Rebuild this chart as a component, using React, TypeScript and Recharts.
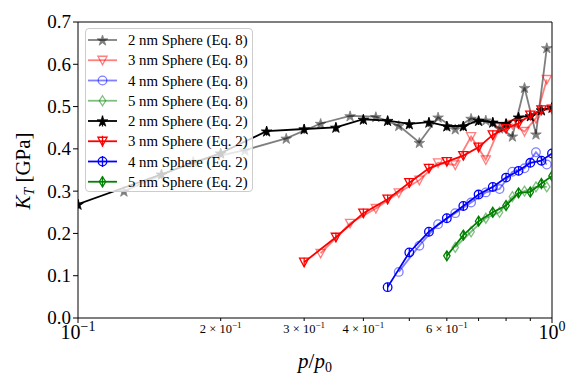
import { LineChart, Line, XAxis, YAxis, ReferenceLine } from 'recharts';

const FONT = '"Liberation Serif", "DejaVu Serif", serif';

// Eq. 2 series (p/p0, K_T in GPa)
const xSphere2Eq2 = [0.1, 0.15, 0.2, 0.25, 0.3, 0.35, 0.4, 0.45, 0.5, 0.55, 0.6, 0.65, 0.7, 0.75, 0.8, 0.85, 0.9, 0.95, 1.0];
const kSphere2Eq2 = [0.269, 0.34, 0.39, 0.442, 0.447, 0.451, 0.47, 0.467, 0.459, 0.463, 0.454, 0.454, 0.467, 0.463, 0.46, 0.475, 0.478, 0.492, 0.498];

const xSphere3Eq2 = [0.3, 0.35, 0.4, 0.45, 0.5, 0.55, 0.6, 0.65, 0.7, 0.75, 0.8, 0.85, 0.9, 0.95, 1.0];
const kSphere3Eq2 = [0.132, 0.191, 0.248, 0.281, 0.32, 0.354, 0.37, 0.384, 0.404, 0.433, 0.448, 0.46, 0.48, 0.492, 0.494];

const xSphere4Eq2 = [0.45, 0.5, 0.55, 0.6, 0.65, 0.7, 0.75, 0.8, 0.85, 0.9, 0.95, 1.0];
const kSphere4Eq2 = [0.073, 0.155, 0.204, 0.236, 0.265, 0.292, 0.31, 0.332, 0.348, 0.367, 0.372, 0.389];

const xSphere5Eq2 = [0.6, 0.65, 0.7, 0.75, 0.8, 0.85, 0.9, 0.95, 1.0];
const kSphere5Eq2 = [0.147, 0.196, 0.229, 0.25, 0.266, 0.296, 0.298, 0.318, 0.336];

// Eq. 8 series (midpoints)
const xSphere2Eq8 = [0.125, 0.175, 0.225, 0.275, 0.325, 0.375, 0.425, 0.475, 0.525, 0.575, 0.625, 0.675, 0.725, 0.775, 0.825, 0.875, 0.925, 0.975];
const kSphere2Eq8 = [0.3, 0.37, 0.397, 0.425, 0.46, 0.478, 0.476, 0.455, 0.415, 0.475, 0.447, 0.472, 0.468, 0.449, 0.43, 0.545, 0.435, 0.639];

const xSphere3Eq8 = [0.325, 0.375, 0.425, 0.475, 0.525, 0.575, 0.625, 0.675, 0.725, 0.775, 0.825, 0.875, 0.925, 0.975];
const kSphere3Eq8 = [0.153, 0.224, 0.259, 0.296, 0.326, 0.367, 0.362, 0.429, 0.374, 0.45, 0.458, 0.441, 0.472, 0.564];

const xSphere4Eq8 = [0.475, 0.525, 0.575, 0.625, 0.675, 0.725, 0.775, 0.825, 0.875, 0.925, 0.975];
const kSphere4Eq8 = [0.109, 0.171, 0.222, 0.248, 0.273, 0.297, 0.305, 0.346, 0.354, 0.392, 0.363];

const xSphere5Eq8 = [0.625, 0.675, 0.725, 0.775, 0.825, 0.875, 0.925, 0.975];
const kSphere5Eq8 = [0.167, 0.204, 0.236, 0.25, 0.287, 0.3, 0.31, 0.31];

const xTicks = [0.1, 0.2, 0.3, 0.4, 0.5, 0.6, 0.7, 0.8, 0.9, 1];
const xTickLabels: Record<string, [string, string] | null> = {
  '0.1': ['10', '\u22121'],
  '0.2': ['2 \u00d7 10', '\u22121'],
  '0.3': ['3 \u00d7 10', '\u22121'],
  '0.4': ['4 \u00d7 10', '\u22121'],
  '0.6': ['6 \u00d7 10', '\u22121'],
  '1': ['10', '0'],
};
const yTicks = [0, 0.1, 0.2, 0.3, 0.4, 0.5, 0.6, 0.7];

type Kind = 'star' | 'tri' | 'circle' | 'diamond';

interface Series {
  name: string;
  xs: number[];
  ks: number[];
  color: string;
  kind: Kind;
  filled: boolean;
  bar: boolean;
  alpha: number;
}

const series: Series[] = [
  { name: '2 nm Sphere (Eq. 8)', xs: xSphere2Eq8, ks: kSphere2Eq8, color: '#000000', kind: 'star', filled: true, bar: false, alpha: 0.5 },
  { name: '3 nm Sphere (Eq. 8)', xs: xSphere3Eq8, ks: kSphere3Eq8, color: '#ff0000', kind: 'tri', filled: false, bar: false, alpha: 0.5 },
  { name: '4 nm Sphere (Eq. 8)', xs: xSphere4Eq8, ks: kSphere4Eq8, color: '#0000ff', kind: 'circle', filled: false, bar: false, alpha: 0.5 },
  { name: '5 nm Sphere (Eq. 8)', xs: xSphere5Eq8, ks: kSphere5Eq8, color: '#008000', kind: 'diamond', filled: false, bar: false, alpha: 0.5 },
  { name: '2 nm Sphere (Eq. 2)', xs: xSphere2Eq2, ks: kSphere2Eq2, color: '#000000', kind: 'star', filled: true, bar: true, alpha: 1 },
  { name: '3 nm Sphere (Eq. 2)', xs: xSphere3Eq2, ks: kSphere3Eq2, color: '#ff0000', kind: 'tri', filled: false, bar: true, alpha: 1 },
  { name: '4 nm Sphere (Eq. 2)', xs: xSphere4Eq2, ks: kSphere4Eq2, color: '#0000ff', kind: 'circle', filled: false, bar: true, alpha: 1 },
  { name: '5 nm Sphere (Eq. 2)', xs: xSphere5Eq2, ks: kSphere5Eq2, color: '#008000', kind: 'diamond', filled: false, bar: true, alpha: 1 },
];

function starPath(cx: number, cy: number, r: number) {
  const ri = r * 0.382;
  let d = '';
  for (let i = 0; i < 10; i++) {
    const rad = i % 2 === 0 ? r : ri;
    const a = -Math.PI / 2 + (i * Math.PI) / 5;
    d += (i === 0 ? 'M' : 'L') + (cx + rad * Math.cos(a)).toFixed(2) + ',' + (cy + rad * Math.sin(a)).toFixed(2);
  }
  return d + 'Z';
}

function Marker({ cx, cy, s, barLen = 4.5 }: { cx: number; cy: number; s: Series; barLen?: number }) {
  const fill = s.filled ? s.color : 'none';
  const common = { stroke: s.color, strokeWidth: 1.3, fill };
  let shape = null;
  if (s.kind === 'star') shape = <path d={starPath(cx, cy + 0.6, 5.6)} {...common} strokeWidth={0.8} />;
  if (s.kind === 'tri')
    shape = <path d={`M${cx - 4.6},${cy - 4} L${cx + 4.6},${cy - 4} L${cx},${cy + 4.6} Z`} {...common} />;
  if (s.kind === 'circle') shape = <circle cx={cx} cy={cy} r={4.3} {...common} />;
  if (s.kind === 'diamond')
    shape = <path d={`M${cx},${cy - 5} L${cx + 3.2},${cy} L${cx},${cy + 5} L${cx - 3.2},${cy} Z`} {...common} />;
  return (
    <g opacity={s.alpha}>
      {shape}
      {s.bar && <line x1={cx} x2={cx} y1={cy - barLen} y2={cy + barLen} stroke={s.color} strokeWidth={1.3} />}
    </g>
  );
}

const XTick = (props: any) => {
  const { x, y, payload } = props;
  const v = payload.value;
  const major = v === 0.1 || v === 1;
  const lab = xTickLabels[String(v)];
  return (
    <g>
      <line x1={x} x2={x} y1={y} y2={y + (major ? 5 : 3)} stroke="#000" strokeWidth={1} />
      {lab && major && (
        <text x={x} y={y + 21} textAnchor="middle" fontFamily={FONT} fontSize={20} fill="#000">
          {lab[0]}
          <tspan fontSize={14} dy={-8}>{lab[1]}</tspan>
        </text>
      )}
      {lab && !major && (
        <text x={x} y={y + 15} textAnchor="middle" fontFamily={FONT} fontSize={12.5} fill="#000">
          {lab[0]}
          <tspan fontSize={9} dy={-5}>{lab[1]}</tspan>
        </text>
      )}
    </g>
  );
};

const YTick = (props: any) => {
  const { x, y, payload } = props;
  return (
    <g>
      <line x1={x - 5} x2={x} y1={y} y2={y} stroke="#000" strokeWidth={1} />
      <text x={x - 7} y={y} dy="0.34em" textAnchor="end" fontFamily={FONT} fontSize={19} fill="#000">
        {Number(payload.value).toFixed(1)}
      </text>
    </g>
  );
};

function LegendBox() {
  const rowH = 20.25;
  return (
    <div
      style={{
        position: 'absolute',
        left: 85,
        top: 28,
        width: 168,
        height: 164,
        boxSizing: 'border-box',
        border: '1px solid #cccccc',
        borderRadius: 4,
        background: 'rgba(255,255,255,0.8)',
      }}
    >
      <svg width={168} height={164} style={{ position: 'absolute', left: -1, top: -1 }}>
        {series.map((s, i) => {
          const cy = 12 + i * rowH;
          return (
            <g key={s.name}>
              <line x1={3} x2={32} y1={cy} y2={cy} stroke={s.color} strokeOpacity={s.alpha} strokeWidth={1.8} />
              <Marker cx={17.5} cy={cy} s={s} barLen={5.5} />
              <text x={43} y={cy + 5} fontFamily={FONT} fontSize={14.8} fill="#000">
                {s.name}
              </text>
            </g>
          );
        })}
      </svg>
    </div>
  );
}

export default function App() {
  return (
    <div style={{ position: 'relative', width: 581, height: 388, background: '#fff' }}>
      <style>{'body{margin:0}'}</style>
      <LineChart width={581} height={388} margin={{ top: 22, right: 29, bottom: 0, left: 0 }}>
        <XAxis
          type="number"
          dataKey="x"
          scale="log"
          domain={[0.1, 1]}
          allowDataOverflow
          ticks={xTicks}
          interval={0}
          tickLine={false}
          tickSize={0}
          tickMargin={0}
          height={70}
          axisLine={{ stroke: '#000', strokeWidth: 1 }}
          tick={<XTick />}
          label={{
            content: () => (
              <text x={315} y={368} textAnchor="middle" fontFamily={FONT} fontSize={21} fill="#000">
                <tspan fontStyle="italic">p</tspan>
                <tspan>/</tspan>
                <tspan fontStyle="italic">p</tspan>
                <tspan fontSize={14} dy={4}>0</tspan>
              </text>
            ),
          }}
        />
        <YAxis
          type="number"
          domain={[0, 0.7]}
          allowDataOverflow
          ticks={yTicks}
          interval={0}
          width={78}
          tickLine={false}
          tickSize={0}
          tickMargin={0}
          axisLine={{ stroke: '#000', strokeWidth: 1 }}
          tick={<YTick />}
          label={{
            content: () => (
              <text
                x={0}
                y={0}
                transform="translate(30,171) rotate(-90)"
                textAnchor="middle"
                fontFamily={FONT}
                fontSize={21}
                fill="#000"
              >
                <tspan fontStyle="italic">K</tspan>
                <tspan fontStyle="italic" fontSize={14} dy={4}>T</tspan>
                <tspan dy={-4}> [GPa]</tspan>
              </text>
            ),
          }}
        />
        <ReferenceLine y={0.7} stroke="#000" strokeWidth={1} />
        <ReferenceLine x={1} stroke="#000" strokeWidth={1} />
        {series.map((s) => (
          <Line
            key={s.name}
            data={s.xs.map((x, i) => ({ x, y: s.ks[i] }))}
            dataKey="y"
            type="linear"
            stroke={s.color}
            strokeOpacity={s.alpha}
            strokeWidth={1.8}
            isAnimationActive={false}
            activeDot={false}
            dot={(p: any) => <Marker key={`${s.name}-${p.index}`} cx={p.cx} cy={p.cy} s={s} />}
          />
        ))}
      </LineChart>
      <LegendBox />
    </div>
  );
}
